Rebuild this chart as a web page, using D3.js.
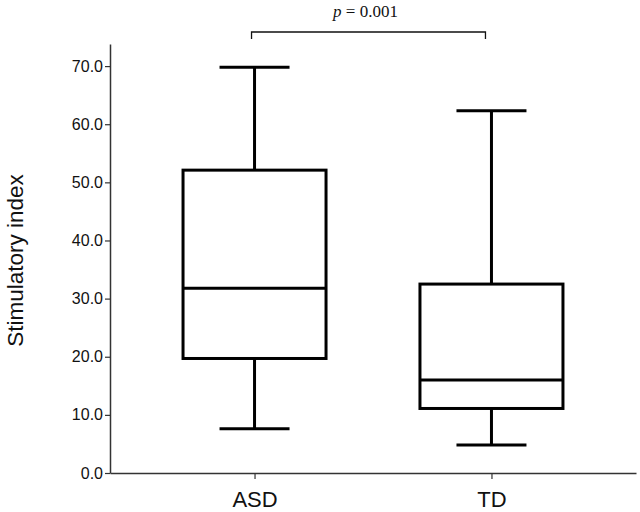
<!DOCTYPE html>
<html>
<head>
<meta charset="utf-8">
<script src="https://cdn.jsdelivr.net/npm/d3@7"></script>
<style>
body { margin: 0; background: #fff; }
svg { display: block; }
</style>
</head>
<body>
<svg id="chart" width="640" height="512"></svg>
<script>
// Data
const categories = ["ASD", "TD"];
const whiskerLow = [7.6, 4.8];
const q1 = [19.7, 11.1];
const median = [31.8, 16.0];
const q3 = [52.1, 32.5];
const whiskerHigh = [69.8, 62.3];
const yTicks = [0, 10, 20, 30, 40, 50, 60, 70];
const yLabel = "Stimulatory index";
const pLabel = "0.001";

(function () {
const svg = d3.select("#chart");
const mLeft = 110, mRight = 636, mTop = 44, mBottom = 473;

const y = d3.scaleLinear().domain([0, 73.8]).range([mBottom, mTop]);
const x = d3.scalePoint().domain(categories).range([mLeft, mRight]).padding(0.61);

const boxW = 143, capW = 70;

// Y axis
const yAxis = d3.axisLeft(y).tickValues(yTicks).tickFormat(d3.format(".1f")).tickSize(5).tickSizeOuter(0);
const gy = svg.append("g").attr("transform", `translate(${mLeft},0)`).call(yAxis);
gy.select(".domain").attr("stroke", "#333").attr("stroke-width", 1.5);
gy.selectAll(".tick line").attr("stroke", "#333").attr("stroke-width", 1.2);
gy.selectAll(".tick text").attr("font-family", "Liberation Sans, Arial, sans-serif").attr("font-size", 16).attr("fill", "#111").attr("x", -7);

// X axis
const xAxis = d3.axisBottom(x).tickSize(6).tickSizeOuter(0);
const gx = svg.append("g").attr("transform", `translate(0,${mBottom})`).call(xAxis);
gx.select(".domain").attr("stroke", "#333").attr("stroke-width", 1.5);
gx.selectAll(".tick line").attr("stroke", "#333").attr("stroke-width", 1.2);
gx.selectAll(".tick text").attr("font-family", "Liberation Sans, Arial, sans-serif").attr("font-size", 22).attr("fill", "#111").attr("dy", 0).attr("y", 34);

// Boxes
const data = categories.map((c, i) => ({c, lo: whiskerLow[i], q1: q1[i], med: median[i], q3: q3[i], hi: whiskerHigh[i]}));
const g = svg.append("g").attr("stroke", "#000").attr("stroke-width", 3).attr("fill", "none");
data.forEach(d => {
  const cx = x(d.c);
  g.append("line").attr("x1", cx).attr("x2", cx).attr("y1", y(d.hi)).attr("y2", y(d.q3));
  g.append("line").attr("x1", cx).attr("x2", cx).attr("y1", y(d.q1)).attr("y2", y(d.lo));
  g.append("line").attr("x1", cx - capW/2).attr("x2", cx + capW/2).attr("y1", y(d.hi)).attr("y2", y(d.hi));
  g.append("line").attr("x1", cx - capW/2).attr("x2", cx + capW/2).attr("y1", y(d.lo)).attr("y2", y(d.lo));
  g.append("rect").attr("x", cx - boxW/2).attr("width", boxW).attr("y", y(d.q3)).attr("height", y(d.q1) - y(d.q3));
  g.append("line").attr("x1", cx - boxW/2).attr("x2", cx + boxW/2).attr("y1", y(d.med)).attr("y2", y(d.med));
});

// Y label
svg.append("text")
  .attr("transform", `translate(23,${(mTop + mBottom) / 2 + 2}) rotate(-90)`)
  .attr("text-anchor", "middle")
  .attr("font-family", "Liberation Sans, Arial, sans-serif")
  .attr("font-size", 22.5)
  .attr("fill", "#111")
  .text(yLabel);

// Significance bracket
const bx1 = x(categories[0]) - 3, bx2 = x(categories[1]) - 6, by = 32;
svg.append("path")
  .attr("d", `M${bx1},${by + 7}V${by}H${bx2}V${by + 7}`)
  .attr("fill", "none").attr("stroke", "#111").attr("stroke-width", 1.3);
const pt = svg.append("text")
  .attr("x", (bx1 + bx2) / 2 - 3).attr("y", 17)
  .attr("text-anchor", "middle")
  .attr("font-family", "Liberation Serif, Times New Roman, serif")
  .attr("font-size", 17)
  .attr("fill", "#111");
pt.append("tspan").attr("font-style", "italic").text("p");
pt.append("tspan").text(" = " + pLabel);
})();
</script>
</body>
</html>
